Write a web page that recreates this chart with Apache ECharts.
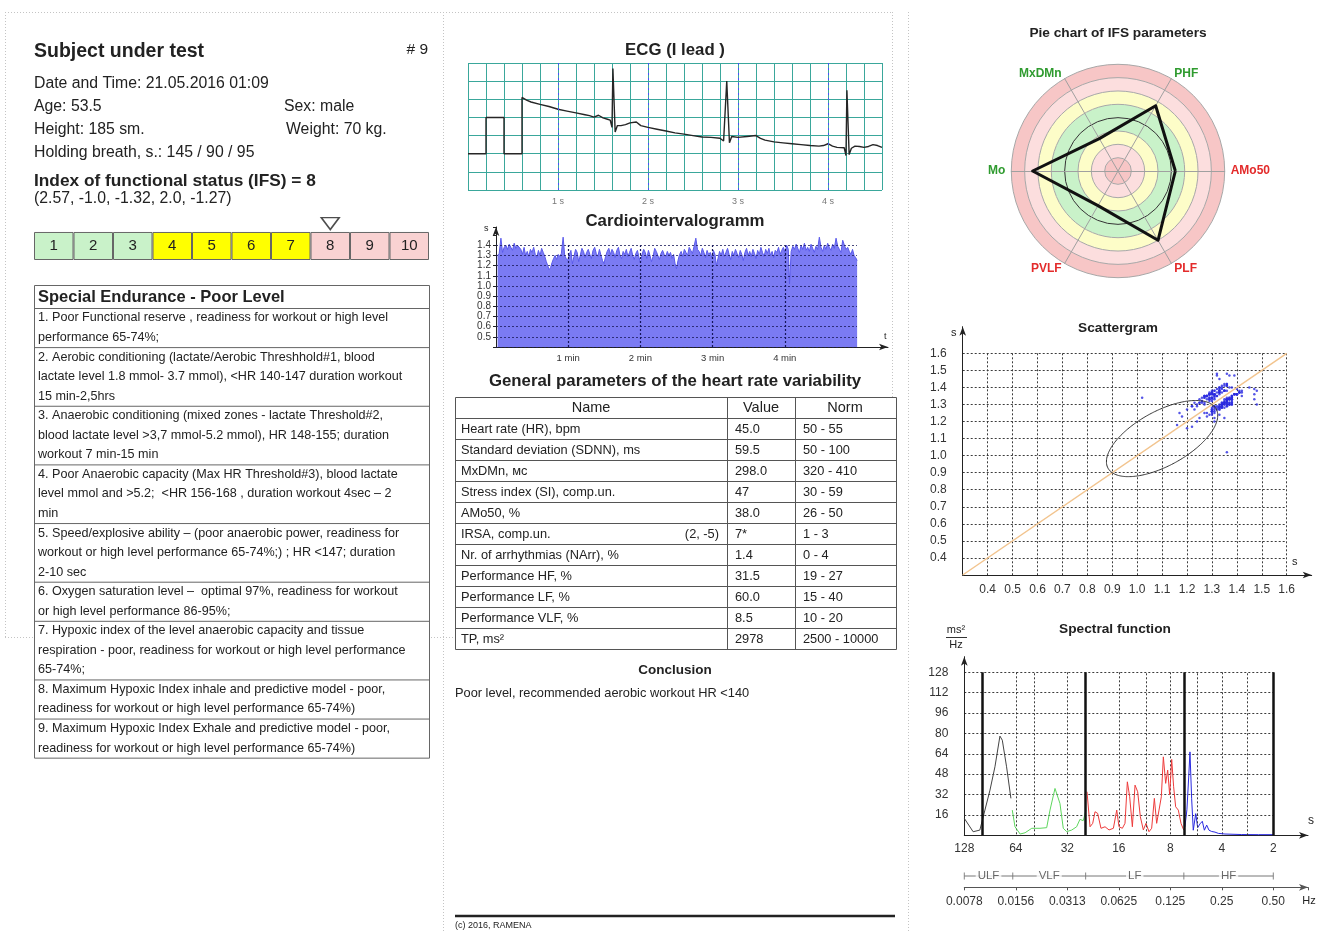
<!DOCTYPE html>
<html><head><meta charset="utf-8">
<script src="https://cdn.jsdelivr.net/npm/echarts/dist/echarts.min.js"></script>
<style>html,body{margin:0;padding:0;background:#fff}#c{width:1318px;height:932px}</style>
</head><body><div id="c"></div><script>
// ================= DATA =================
const subjectTitle = 'Subject under test';
const subjectNo = '# 9';
const subjectInfo = ['Date and Time: 21.05.2016 01:09', 'Age: 53.5', 'Height: 185 sm.', 'Holding breath, s.: 145 / 90 / 95'];
const subjectInfoRight = ['Sex: male', 'Weight: 70 kg.'];
const ifsTitle = 'Index of functional status (IFS) = 8';
const ifsComponents = '(2.57, -1.0, -1.32, 2.0, -1.27)';
const ifsScale = ['1','2','3','4','5','6','7','8','9','10'];
const ifsZone  = ['g','g','g','y','y','y','y','r','r','r'];
const ifsValue = '8';

const enduranceTitle = 'Special Endurance - Poor Level';
const enduranceRows = [
  ['1. Poor Functional reserve , readiness for workout or high level', 'performance 65-74%;'],
  ['2. Aerobic conditioning (lactate/Aerobic Threshhold#1, blood', 'lactate level 1.8 mmol- 3.7 mmol), <HR 140-147 duration workout', '15 min-2,5hrs'],
  ['3. Anaerobic conditioning (mixed zones - lactate Threshold#2,', 'blood lactate level >3,7 mmol-5.2 mmol), HR 148-155; duration', 'workout 7 min-15 min'],
  ['4. Poor Anaerobic capacity (Max HR Threshold#3), blood lactate', 'level mmol and >5.2;  <HR 156-168 , duration workout 4sec \u2013 2', 'min'],
  ['5. Speed/explosive ability \u2013 (poor anaerobic power, readiness for', 'workout or high level performance 65-74%;) ; HR <147; duration', '2-10 sec'],
  ['6. Oxygen saturation level \u2013  optimal 97%, readiness for workout', 'or high level performance 86-95%;'],
  ['7. Hypoxic index of the level anaerobic capacity and tissue', 'respiration - poor, readiness for workout or high level performance', '65-74%;'],
  ['8. Maximum Hypoxic Index inhale and predictive model - poor,', 'readiness for workout or high level performance 65-74%)'],
  ['9. Maximum Hypoxic Index Exhale and predictive model - poor,', 'readiness for workout or high level performance 65-74%)']
];

// ECG trace (seconds, amplitude in grid cells), includes calibration pulse
const ecgTime = [0,0.2,0.2,0.4,0.4,0.6,0.6,0.65,0.7,0.8,0.9,1.0,1.1,1.2,1.3,1.35,1.4,1.45,1.5,1.55,1.58,1.6,1.61,1.625,1.635,1.645,1.66,1.7,1.75,1.8,1.87,1.92,2.0,2.1,2.2,2.3,2.4,2.5,2.6,2.7,2.8,2.84,2.86,2.875,2.895,2.905,2.915,2.93,3.0,3.1,3.2,3.25,3.3,3.4,3.5,3.6,3.7,3.8,3.9,3.95,4.0,4.05,4.1,4.18,4.2,4.21,4.225,4.235,4.25,4.26,4.3,4.35,4.4,4.45,4.5,4.55,4.6];
const ecgAmp  = [2,2,4,4,2,2,5.1,4.95,4.85,4.72,4.6,4.45,4.35,4.25,4.15,4.1,4.02,4.12,3.98,3.9,3.85,3.45,6.7,6.7,3.2,3.1,3.55,3.55,3.6,3.7,3.75,3.55,3.45,3.35,3.25,3.15,3.08,3.0,2.92,2.9,2.85,2.7,2.62,6.0,6.0,2.6,2.6,2.95,2.9,2.95,3.0,2.85,2.75,2.65,2.6,2.55,2.5,2.45,2.42,2.45,2.55,2.42,2.35,2.33,1.9,5.5,5.5,1.95,2.0,2.3,2.42,2.4,2.35,2.4,2.5,2.45,2.35];
const ecgSecondMarks = [1,2,3,4];

// RR intervals (s) – cardiointervalogram
const rr = [
 1.30,1.32,1.47,1.33,1.38,1.40,1.36,1.41,1.38,1.35,1.42,1.37,1.40,1.39,1.36,1.31,1.38,1.30,1.34,1.29,1.36,1.33,1.38,1.31,1.28,1.35,1.30,1.37,1.33,1.29,1.24,1.20,1.16,1.18,1.23,1.27,1.30,1.26,1.31,1.29,1.32,1.48,1.30,1.27,
 1.25,1.31,1.35,1.22,1.29,1.36,1.33,1.24,1.30,1.37,1.34,1.28,1.33,1.36,1.31,1.27,1.35,1.38,1.32,1.29,1.36,1.30,1.25,1.22,1.29,1.34,1.37,1.31,1.36,1.33,1.28,1.35,1.38,1.30,1.27,1.34,1.31,1.36,1.29,1.33,1.37,1.30,1.26,1.32,1.35,
 1.28,1.23,1.31,1.36,1.33,1.27,1.35,1.30,1.24,1.29,1.37,1.34,1.30,1.26,1.32,1.35,1.31,1.29,1.34,1.30,1.33,1.27,1.31,1.22,1.17,1.25,1.31,1.34,1.29,1.36,1.33,1.30,1.38,1.35,1.32,1.39,1.47,1.36,1.34,1.30,1.37,1.33,1.28,1.35,1.31,
 1.33,1.28,1.35,1.31,1.20,1.27,1.34,1.30,1.36,1.29,1.33,1.37,1.31,1.26,1.34,1.30,1.36,1.32,1.28,1.35,1.31,1.25,1.33,1.37,1.30,1.34,1.29,1.36,1.32,1.27,1.35,1.31,1.38,1.33,1.29,1.36,1.32,1.37,1.30,1.34,1.28,1.35,1.33,1.38,1.31,
 1.35,1.38,1.33,1.40,1.36,1.02,1.34,1.39,1.36,1.41,1.37,1.33,1.40,1.36,1.42,1.35,1.38,1.34,1.41,1.37,1.33,1.39,1.36,1.48,1.38,1.34,1.40,1.36,1.42,1.38,1.35,1.41,1.37,1.47,1.39,1.36,1.33,1.45,1.40,1.36,1.38,1.34,1.31,1.36,1.30,1.28,1.25
];
const minuteMarks = [1,2,3,4];

// HRV table
const hrvNames  = ['Heart rate (HR), bpm','Standard deviation (SDNN), ms','MxDMn, \u043c\u0441','Stress index (SI), comp.un.','AMo50, %','IRSA, comp.un.','Nr. of arrhythmias (NArr), %','Performance HF, %','Performance LF, %','Performance VLF, %','TP, ms\u00b2'];
const hrvValues = ['45.0','59.5','298.0','47','38.0','7*','1.4','31.5','60.0','8.5','2978'];
const hrvNorms  = ['50 - 55','50 - 100','320 - 410','30 - 59','26 - 50','1 - 3','0 - 4','19 - 27','15 - 40','10 - 20','2500 - 10000'];
const hrvNotes  = ['','','','','','(2, -5)','','','','',''];
const conclusion = 'Poor level, recommended aerobic workout HR <140';

// Radar (pie chart of IFS parameters), values in band units 0..8
const radarNames  = ['AMo50','PHF','MxDMn','Mo','PVLF','PLF'];
const radarNameColors = ['#e32b2b','#2f9b2f','#2f9b2f','#2f9b2f','#e32b2b','#e32b2b'];
const radarValues = [4.3, 5.65, 2.8, 6.4, 3.0, 6.0];

// Scattergram ellipse parameters (s)
const ellipseCenter = [1.1, 1.1];
const ellipseSD2 = 0.283;
const ellipseSD1 = 0.14;
const diagonal = [0.3, 1.6];

// Spectral function (frequency Hz, power ms^2/Hz)
const ulfF = [0.0078125,0.0088,0.00963,0.01031,0.01104,0.0118,0.01262,0.01303,0.0138,0.01463];
const ulfP = [13.3,2.8,4.1,19.8,35.5,53.8,77.9,74.7,53.8,29];
const vlfF = [0.0149,0.01546,0.01656,0.0177,0.01937,0.02164,0.02368,0.02476,0.02648,0.02831,0.0296,0.03099,0.03313,0.03543,0.03704,0.03874,0.04019];
const vlfP = [19.8,6.7,1,2,5.5,5.5,6,19.8,36.8,25,5.5,2.9,4.1,6.7,12.5,11.5,19.8];
const lfF = [0.04074,0.04244,0.04399,0.04538,0.04703,0.04917,0.05193,0.05481,0.05811,0.06079,0.06268,0.06557,0.06793,0.07013,0.07236,0.07502,0.07777,0.08056,0.08352,0.08695,0.09014,0.09384,0.09728,0.10085,0.10405,0.10739,0.1108,0.11384,0.11745,0.12067,0.12397,0.12736,0.13074,0.13433,0.13925,0.14436,0.14966];
const lfP = [34.2,6.7,9.4,18.5,17.2,5.5,6.7,4.2,5.5,19.8,6.7,5.5,9.4,42,30.3,6.7,39.4,34.2,14.6,4.2,9.4,2.8,5.5,29,9.4,19.8,30.3,61.6,40.8,51.2,31.6,59.6,38.1,22.4,19.8,9.4,4.2];
const hfF = [0.1522,0.1563,0.16,0.1629,0.1666,0.1703,0.176,0.1807,0.1865,0.1924,0.1977,0.204,0.2104,0.2181,0.2281,0.2386,0.261,0.3269,0.409,0.5];
const hfP = [6.7,20,45,65.5,28.7,4,17,6,9,11,4,8,4,3,2.5,1.5,1,0.6,0.5,0.5];
const bandEdges = [0.0078125, 0.015, 0.04, 0.15, 0.5];
const bandNames = ['ULF','VLF','LF','HF'];
const halfOctaves = [0.011049, 0.022097, 0.044194, 0.088388, 0.176777, 0.353553];
const periodLabels = ['128','64','32','16','8','4','2'];
const freqLabels = ['0.0078','0.0156','0.0313','0.0625','0.125','0.25','0.50'];

// ================= STYLE =================
const FONT = '"Liberation Sans", Arial, sans-serif';
const TXT = '#222';
const TEAL = '#3aa79b';
const zoneColor = {g:'#c9f2c9', y:'#ffff00', r:'#f9d2d2'};
const radarBandColors = ['#f7c6c6','#fcdede','#fdfdc8','#c9f2c9','#c9f2c9','#fdfdc8','#fcdede','#f7c6c6'];
const radarRingColors = ['#999','#a8a8a8','#a8a8a8','#a8a8a8','#333','#a8a8a8','#a8a8a8','#a8a8a8','#a8a8a8'];

// ================= GRAPHIC (text & tables) =================
const G = [];
function T(x, y, text, size, o) {
  o = o || {};
  G.push({type:'text', x:x, y:y, z:50, silent:true, style:{text:text, fill:o.color||TXT, fontSize:size, fontFamily:FONT,
    fontWeight:o.bold?'bold':'normal', align:o.align||'left', textAlign:o.align||'left', verticalAlign:'middle', textVerticalAlign:'middle'}});
}
function L(x1, y1, x2, y2, o) {
  o = o || {};
  G.push({type:'line', z:o.z||40, silent:true, shape:{x1:x1,y1:y1,x2:x2,y2:y2}, style:{stroke:o.color||'#555', lineWidth:o.w||1, lineDash:o.dash||null}});
}
function R(x, y, w, h, o) {
  o = o || {};
  G.push({type:'rect', z:o.z||30, silent:true, shape:{x:x,y:y,width:w,height:h}, style:{fill:o.fill||'#fff', stroke:o.stroke||'#555', lineWidth:o.w||1}});
}
// dotted frame
const dot = {color:'#c4c4c4', dash:[1,2], z:1};
L(5,12.5,892,12.5,dot); L(5.5,12,5.5,638,dot); L(5,637.5,892,637.5,dot);
L(443.5,12,443.5,932,dot); L(892.5,12,892.5,638,dot); L(908.5,12,908.5,932,dot);

// left panel
T(34,52,subjectTitle,19.5,{bold:true});
T(428,50,subjectNo,15.5,{align:'right'});
T(34,84,subjectInfo[0],15.8);
T(34,107,subjectInfo[1],15.8); T(284,107,subjectInfoRight[0],15.8);
T(34,130,subjectInfo[2],15.8); T(286,130,subjectInfoRight[1],15.8);
T(34,153,subjectInfo[3],15.8);
T(34,181,ifsTitle,17.3,{bold:true});
T(34,199,ifsComponents,15.8);

// endurance table
(function(){
  const x0 = 34.5, x1 = 429.5, lh = 19.55;
  let y = 308.5;
  let total = 0; enduranceRows.forEach(r => total += r.length);
  R(x0, 285.5, x1-x0, 23 + total*lh, {stroke:'#666'});
  T(38, 297, enduranceTitle, 16.5, {bold:true});
  enduranceRows.forEach(row => {
    L(x0, y, x1, y, {color:'#666'});
    row.forEach((line, k) => T(38, y + 9.5 + k*lh, line, 12.6));
    y += row.length * lh;
  });
})();

// middle panel titles
T(675,50,'ECG (I lead )',16.8,{bold:true,align:'center'});
T(675,221,'Cardiointervalogramm',16.8,{bold:true,align:'center'});
T(484,229,'s',9); T(884,337,'t',9);
T(675,381,'General parameters of the heart rate variability',16.8,{bold:true,align:'center'});

// HRV table
(function(){
  const x0 = 455.5, x1 = 896.5, c1 = 727.5, c2 = 795.5, top = 397.5, hh = 21, rh = 21;
  const h = hh + rh*hrvNames.length;
  R(x0, top, x1-x0, h, {stroke:'#555'});
  L(c1, top, c1, top+h); L(c2, top, c2, top+h);
  T(591, top+hh/2, 'Name', 14.5, {align:'center'});
  T(761, top+hh/2, 'Value', 14.5, {align:'center'});
  T(845, top+hh/2, 'Norm', 14.5, {align:'center'});
  hrvNames.forEach((n, i) => {
    const y = top + hh + rh*i;
    L(x0, y, x1, y);
    const cy = y + rh/2;
    T(461, cy, n, 12.8);
    if (hrvNotes[i]) T(719, cy, hrvNotes[i], 12.8, {align:'right'});
    T(735, cy, hrvValues[i], 12.8);
    T(803, cy, hrvNorms[i], 12.8);
  });
})();
T(675,670,'Conclusion',13.5,{bold:true,align:'center'});
T(455,693,conclusion,12.8);
L(455,916,895,916,{w:2.5,color:'#222'});
T(455,926,'(c) 2016, RAMENA',9);

// right panel
T(1118,33,'Pie chart of IFS parameters',13.7,{bold:true,align:'center'});
T(1118,328,'Scattergram',13.7,{bold:true,align:'center'});
T(951,333,'s',11); T(1292,562,'s',11);
T(1115,629,'Spectral function',13.7,{bold:true,align:'center'});
T(956,630,'ms\u00b2',11,{align:'center'}); L(946,637.5,967,637.5,{color:'#333'}); T(956,645,'Hz',11,{align:'center'});
T(1311,821,'s',12,{align:'center'});
T(1309,901,'Hz',11,{align:'center'});

// ================= SERIES DATA BUILD =================
let tAcc = 0;
const cardioPts = rr.map(v => { tAcc += v; return [tAcc/60, v]; });
const scatterPts = rr.slice(0, -1).map((v, i) => [v, rr[i+1]]);
const ellipsePts = [];
for (let k = 0; k <= 72; k++) {
  const th = k/72*2*Math.PI, a = ellipseSD2*Math.cos(th), b = ellipseSD1*Math.sin(th);
  ellipsePts.push([ellipseCenter[0] + (a - b)/Math.SQRT2, ellipseCenter[1] + (a + b)/Math.SQRT2]);
}
const zip = (xs, ys) => xs.map((x, i) => [x, ys[i]]);
const octave = v => Math.log(v)/Math.LN2;
const periodFmt = v => { const o = -octave(v); const k = Math.round(o); return Math.abs(o-k) < 0.05 && k>=1 && k<=7 ? periodLabels[7-k] : ''; };
const freqFmt = v => { const o = -octave(v); const k = Math.round(o); return Math.abs(o-k) < 0.05 && k>=1 && k<=7 ? freqLabels[7-k] : ''; };
const isInt = v => Math.abs(v - Math.round(v)) < 1e-6;
const dotted = {color:'#3c3c3c', type:[2,2], width:1};
const arrowLine = {show:true, symbol:['none','arrow'], symbolSize:[5,9], lineStyle:{color:'#222', width:1}};
const noAxisParts = {axisTick:{show:false}, axisLabel:{show:false}, splitLine:{show:false}};

const chart = echarts.init(document.getElementById('c'), null, {renderer:'canvas'});
chart.setOption({
  animation: false,
  backgroundColor: '#fff',
  textStyle: {fontFamily: FONT},
  graphic: {elements: G},
  grid: [
    {left:34, top:216, width:395, height:44},            // 0 IFS scale
    {left:468, top:63, width:414, height:127},           // 1 ECG
    {left:496, top:227, width:392, height:120},          // 2 cardio full range
    {left:496, top:245.3, width:361, height:101.7},      // 3 cardio grid lines
    {left:962.7, top:353.3, width:324, height:221.7},    // 4 scatter main
    {left:962.7, top:326.7, width:349, height:248.3},    // 5 scatter arrows
    {left:964.3, top:672.3, width:309, height:163},      // 6 spectral main
    {left:964.3, top:656.7, width:343.7, height:178.6},  // 7 spectral arrows + Hz axis
    {left:964.3, top:869, width:309, height:14}          // 8 bands
  ],
  xAxis: [
    {gridIndex:0, type:'category', data:ifsScale, show:false},
    {gridIndex:1, type:'value', min:0, max:4.6, interval:0.2, axisLine:{show:false}, axisTick:{show:false},
      splitLine:{show:true, lineStyle:{color:TEAL, width:1}},
      axisLabel:{fontSize:9, color:'#777', margin:7, formatter: v => (isInt(v) && v>0.5 && v<4.5) ? Math.round(v)+' s' : ''}},
    {gridIndex:2, type:'value', min:0, max:5.43, interval:1, axisLine:arrowLine, axisTick:{show:false}, splitLine:{show:false},
      axisLabel:{fontSize:9.5, color:'#333', margin:6, formatter: v => (isInt(v) && v>0.5 && v<4.5) ? Math.round(v)+' min' : ''}},
    {gridIndex:3, type:'value', min:0, max:5, show:false},
    {gridIndex:4, type:'value', min:0.3, max:1.6, interval:0.1, axisLine:{show:false}, axisTick:{show:false},
      splitLine:{show:true, lineStyle:dotted},
      axisLabel:{fontSize:12, color:'#333', margin:9, formatter: v => v < 0.35 ? '' : v.toFixed(1)}},
    Object.assign({gridIndex:5, type:'value', min:0.3, max:1.7, axisLine:arrowLine}, noAxisParts),
    {gridIndex:6, type:'log', logBase:2, min:1/128, max:0.5, axisLine:{show:false}, axisTick:{show:false},
      splitLine:{show:true, lineStyle:dotted},
      axisLabel:{fontSize:12, color:'#333', margin:7, formatter: periodFmt}},
    Object.assign({gridIndex:7, type:'log', logBase:2, min:1/128, max:0.798, axisLine:arrowLine}, noAxisParts),
    {gridIndex:7, type:'log', logBase:2, min:1/128, max:0.798, position:'bottom', offset:52,
      axisLine:{show:true, symbol:['none','arrow'], symbolSize:[5,9], lineStyle:{color:'#555'}},
      axisTick:{show:true, length:3, lineStyle:{color:'#555'}}, splitLine:{show:false},
      axisLabel:{fontSize:12, color:'#333', margin:8, formatter: freqFmt}},
    {gridIndex:8, type:'log', logBase:2, min:1/128, max:0.5, show:false}
  ],
  yAxis: [
    {gridIndex:0, type:'value', min:0, max:1.57, show:false},
    {gridIndex:1, type:'value', min:0, max:7, interval:1, axisLine:{show:false}, axisTick:{show:false}, axisLabel:{show:false},
      splitLine:{show:true, lineStyle:{color:TEAL, width:1}}},
    {gridIndex:2, type:'value', min:0.4, max:1.58, interval:0.1, axisLine:arrowLine, axisTick:{show:true, length:3, lineStyle:{color:'#222'}},
      splitLine:{show:false},
      axisLabel:{fontSize:10, color:'#333', margin:5, formatter: v => (v>0.45 && v<1.45) ? v.toFixed(1) : ''}},
    {gridIndex:3, type:'value', min:0.4, max:1.4, interval:0.1, z:5, axisLine:{show:false}, axisTick:{show:false}, axisLabel:{show:false},
      splitLine:{show:true, lineStyle:{color:'#1c1c5a', type:[2,2], width:1, opacity:0.8}}},
    {gridIndex:4, type:'value', min:0.3, max:1.6, interval:0.1, axisLine:{show:false}, axisTick:{show:false},
      splitLine:{show:true, lineStyle:dotted},
      axisLabel:{fontSize:12, color:'#333', margin:16, formatter: v => v < 0.35 ? '' : v.toFixed(1)}},
    Object.assign({gridIndex:5, type:'value', min:0.3, max:1.756, axisLine:arrowLine}, noAxisParts),
    {gridIndex:6, type:'value', min:0, max:128, interval:16, axisLine:{show:false}, axisTick:{show:false},
      splitLine:{show:true, lineStyle:dotted},
      axisLabel:{fontSize:12, color:'#333', margin:16, formatter: v => v === 0 ? '' : String(v)}},
    Object.assign({gridIndex:7, type:'value', min:0, max:140.25, axisLine:arrowLine}, noAxisParts),
    {gridIndex:8, type:'value', min:0, max:1, show:false}
  ],
  radar: {
    center:[1118, 171], radius:106.7, startAngle:0, shape:'circle', splitNumber:8,
    indicator: radarNames.map((n, i) => ({name:n, min:0, max:8, color:radarNameColors[i]})),
    axisName: {fontSize:12, fontWeight:'bold', fontFamily:FONT},
    nameGap: 6,
    splitArea: {show:true, areaStyle:{color:radarBandColors, opacity:1}},
    splitLine: {show:true, lineStyle:{color:radarRingColors, width:1}},
    axisLine: {show:true, lineStyle:{color:'#a0a0a0', width:1}},
    axisTick: {show:false}, axisLabel: {show:false}
  },
  series: [
    {type:'bar', xAxisIndex:0, yAxisIndex:0, barCategoryGap:'0%', silent:true,
      data: ifsScale.map((c, i) => ({value:1, itemStyle:{color:zoneColor[ifsZone[i]]}})),
      itemStyle:{borderColor:'#666', borderWidth:1},
      label:{show:true, position:'inside', formatter:'{b}', fontSize:15, color:'#222', fontFamily:FONT}},
    {type:'scatter', xAxisIndex:0, yAxisIndex:0, silent:true, data:[[ifsValue, 1.3]], symbol:'triangle', symbolRotate:180,
      symbolSize:[18,12], itemStyle:{color:'#fff', borderColor:'#222', borderWidth:1.5}},
    {type:'line', xAxisIndex:1, yAxisIndex:1, silent:true, data: zip(ecgTime, ecgAmp), showSymbol:false,
      lineStyle:{color:'#262626', width:1.4},
      markLine:{silent:true, symbol:'none', label:{show:false}, lineStyle:{color:'#4a4aff', type:[2,3], width:1},
        data: ecgSecondMarks.map(s => ({xAxis:s}))}},
    {type:'line', xAxisIndex:2, yAxisIndex:2, silent:true, data: cardioPts, showSymbol:false,
      lineStyle:{color:'#5a5aec', width:1}, areaStyle:{color:'#7b7bf3', opacity:1, origin:'start'},
      markLine:{silent:true, symbol:'none', label:{show:false}, lineStyle:{color:'#16165a', type:[2,2], width:1.2},
        data: minuteMarks.map(m => [{coord:[m, 0.4]}, {coord:[m, 1.4]}])}},
    {type:'line', xAxisIndex:4, yAxisIndex:4, silent:true, data: [[diagonal[0], diagonal[0]], [diagonal[1], diagonal[1]]],
      showSymbol:false, lineStyle:{color:'#f2c48e', width:1.5}},
    {type:'scatter', xAxisIndex:4, yAxisIndex:4, silent:true, data: scatterPts, symbolSize:2.5, itemStyle:{color:'#2a2ae0'}},
    {type:'line', xAxisIndex:4, yAxisIndex:4, silent:true, data: ellipsePts, showSymbol:false, smooth:true,
      lineStyle:{color:'#333', width:1}},
    {type:'line', xAxisIndex:6, yAxisIndex:6, silent:true, data: zip(ulfF, ulfP), showSymbol:false, lineStyle:{color:'#444', width:1},
      markLine:{silent:true, symbol:'none', label:{show:false}, lineStyle:dotted, data: halfOctaves.map(f => ({xAxis:f}))}},
    {type:'line', xAxisIndex:6, yAxisIndex:6, silent:true, data: zip(vlfF, vlfP), showSymbol:false, lineStyle:{color:'#5ed65e', width:1}},
    {type:'line', xAxisIndex:6, yAxisIndex:6, silent:true, data: zip(lfF, lfP), showSymbol:false, lineStyle:{color:'#ee3b3b', width:1}},
    {type:'line', xAxisIndex:6, yAxisIndex:6, silent:true, data: zip(hfF, hfP), showSymbol:false, lineStyle:{color:'#2929e0', width:1},
      markLine:{silent:true, symbol:'none', label:{show:false}, lineStyle:{color:'#111', type:'solid', width:2.5},
        data: bandEdges.slice(1).map(f => ({xAxis:f}))}},
    {type:'line', xAxisIndex:9, yAxisIndex:8, silent:true, data: [[bandEdges[0], 0.5], [bandEdges[bandEdges.length-1], 0.5]],
      showSymbol:false, lineStyle:{color:'#777', width:1}},
    {type:'scatter', xAxisIndex:9, yAxisIndex:8, silent:true, data: bandEdges.map(f => [f, 0.5]), symbol:'rect', symbolSize:[1,7],
      itemStyle:{color:'#666'}},
    {type:'scatter', xAxisIndex:9, yAxisIndex:8, silent:true, z:4,
      data: bandNames.map((n, i) => ({name:n, value:[Math.sqrt(bandEdges[i]*bandEdges[i+1]), 0.5]})),
      symbolSize:1, itemStyle:{color:'transparent'},
      label:{show:true, position:'inside', formatter:'{b}', fontSize:11.5, color:'#444', backgroundColor:'#fff', padding:[0,2], fontFamily:FONT}},
    {type:'radar', silent:true, symbol:'none', data:[{value: radarValues}], lineStyle:{color:'#111', width:3}, areaStyle:null}
  ]
});
</script></body></html>
